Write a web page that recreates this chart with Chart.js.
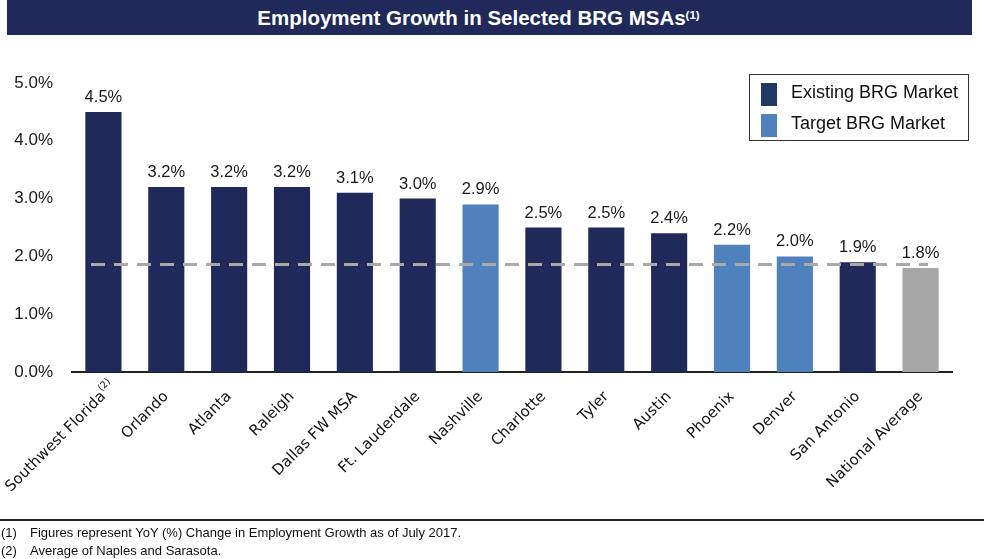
<!DOCTYPE html>
<html>
<head>
<meta charset="utf-8">
<script src="https://cdn.jsdelivr.net/npm/chart.js@4.4.0/dist/chart.umd.min.js"></script>
<style>
  html,body{margin:0;padding:0;background:#fff;}
  #wrap{position:relative;width:984px;height:559px;overflow:hidden;font-family:"Liberation Sans",Arial,sans-serif;}
  #title{position:absolute;left:7px;top:0;width:943px;padding-right:22px;height:35px;background:#1F2A5B;color:#fff;
    font-weight:bold;font-size:20.5px;line-height:35px;text-align:center;}
  #title sup{font-size:11.5px;vertical-align:6px;line-height:0;}
  #legend{position:absolute;left:749px;top:74px;width:220px;height:67px;border:1.5px solid #333;box-sizing:border-box;}
  .li{position:absolute;left:11px;font-size:18px;color:#111;}
  .sw{position:absolute;left:0;width:16px;height:23px;}
  .lt{position:absolute;left:30px;top:0px;white-space:nowrap;}
  #cv{position:absolute;left:0;top:0;}
  #rule{position:absolute;left:0;top:519px;width:984px;height:2px;background:#222;}
  .fn{position:absolute;left:1px;font-size:13px;color:#111;white-space:nowrap;}
  .fn span{display:inline-block;width:29px;}
</style>
</head>
<body>
<div id="wrap">
  <canvas id="cv" width="984" height="559"></canvas>
  <div id="title">Employment Growth in Selected BRG MSAs<sup>(1)</sup></div>
  <div id="legend">
    <div class="li" style="top:7px;"><div class="sw" style="background:#1F3864;top:1px;"></div><div class="lt">Existing BRG Market</div></div>
    <div class="li" style="top:38px;"><div class="sw" style="background:#4F81BD;top:1px;"></div><div class="lt">Target BRG Market</div></div>
  </div>
  <div id="rule"></div>
  <div class="fn" style="top:525px;"><span>(1)</span>Figures represent YoY (%) Change in Employment Growth as of July 2017.</div>
  <div class="fn" style="top:543px;"><span>(2)</span>Average of Naples and Sarasota.</div>
</div>
<script>
const categories = ["Southwest Florida","Orlando","Atlanta","Raleigh","Dallas FW MSA","Ft. Lauderdale","Nashville","Charlotte","Tyler","Austin","Phoenix","Denver","San Antonio","National Average"];
const footnoteMarks = ["(2)","","","","","","","","","","","","",""];
const growth = [4.5,3.2,3.2,3.2,3.1,3.0,2.9,2.5,2.5,2.4,2.2,2.0,1.9,1.8];
const marketType = ["existing","existing","existing","existing","existing","existing","target","existing","existing","existing","target","target","existing","national"];
const averageLine = 1.86;
const yTicks = [0,1,2,3,4,5];

const colorMap = {existing:"#1F2A5B", target:"#4F81BD", national:"#A6A6A6"};

const valueLabels = {
  id:"valueLabels",
  afterDatasetsDraw(chart){
    const ctx = chart.ctx;
    const meta = chart.getDatasetMeta(0);
    ctx.save();
    ctx.font = '16.5px "Liberation Sans", Arial, sans-serif';
    ctx.fillStyle = "#1a1a1a";
    ctx.textAlign = "center";
    ctx.textBaseline = "alphabetic";
    meta.data.forEach((bar,i)=>{
      ctx.fillText(growth[i].toFixed(1)+"%", bar.x, bar.y-10);
    });
    ctx.restore();
  }
};
const avgLinePlugin = {
  id:"avgLine",
  afterDatasetsDraw(chart){
    const ctx = chart.ctx;
    const y = chart.scales.y.getPixelForValue(averageLine);
    const a = chart.chartArea;
    ctx.save();
    ctx.strokeStyle = "#A9A9A9";
    ctx.lineWidth = 3;
    ctx.setLineDash([14,9]);
    ctx.beginPath();
    ctx.moveTo(a.left+19, y);
    ctx.lineTo(a.right-24, y);
    ctx.stroke();
    ctx.restore();
  }
};
const markPlugin = {
  id:"marks",
  afterDraw(chart){
    const ctx = chart.ctx;
    const xs = chart.scales.x;
    ctx.save();
    ctx.font = '9.5px "DejaVu Sans", Verdana, sans-serif';
    ctx.fillStyle = "#111";
    ctx.textAlign = "center";
    ctx.textBaseline = "middle";
    footnoteMarks.forEach((m,i)=>{
      if(!m) return;
      const x = xs.getPixelForTick(i);
      ctx.save();
      ctx.translate(x+1, xs.top+13);
      ctx.rotate(-Math.PI/4);
      ctx.fillText(m,0,0);
      ctx.restore();
    });
    ctx.restore();
  }
};

new Chart(document.getElementById("cv"), {
  type:"bar",
  data:{
    labels:categories,
    datasets:[{
      data:growth,
      backgroundColor:marketType.map(t=>colorMap[t]),
      borderWidth:0,
      categoryPercentage:1,
      barPercentage:0.575
    }]
  },
  options:{
    responsive:false,
    animation:false,
    events:[],
    layout:{padding:{top:83,right:32,bottom:0,left:0}},
    plugins:{legend:{display:false},tooltip:{enabled:false}},
    scales:{
      y:{
        min:0,max:5,
        afterFit(s){s.width=72;},
        afterBuildTicks(s){s.ticks = yTicks.map(v=>({value:v}));},
        grid:{display:false,drawTicks:false},
        border:{display:false},
        ticks:{
          padding:19,
          color:"#1a1a1a",
          font:{family:'"Liberation Sans", Arial, sans-serif',size:17},
          callback:v=>v.toFixed(1)+"%"
        }
      },
      x:{
        afterFit(s){s.height=187;s.paddingLeft=0;s.paddingRight=0;},
        grid:{display:false,drawTicks:false},
        border:{display:true,color:"#222",width:2},
        ticks:{
          padding:16,
          minRotation:45,maxRotation:45,
          autoSkip:false,
          color:"#111",
          font:{family:'"DejaVu Sans", Verdana, sans-serif',size:15}
        }
      }
    }
  },
  plugins:[avgLinePlugin,valueLabels,markPlugin]
});
</script>
</body>
</html>
